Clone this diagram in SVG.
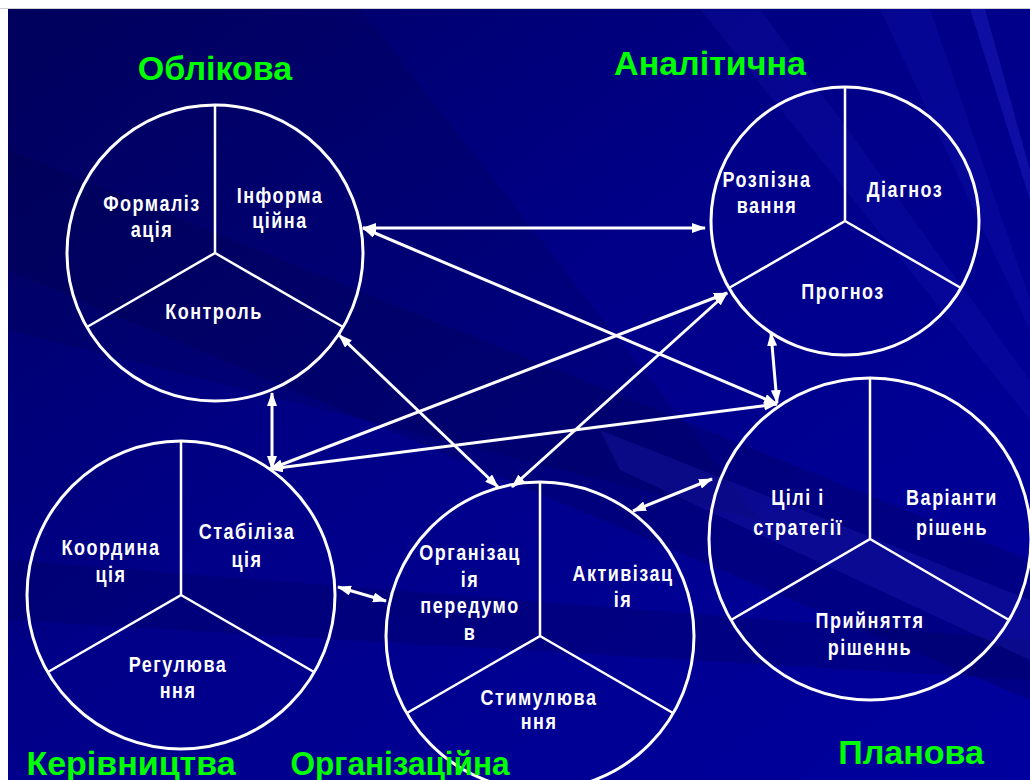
<svg xmlns="http://www.w3.org/2000/svg" width="1030" height="780" viewBox="0 0 1030 780">
<defs>
<linearGradient id="bg" x1="0" y1="0" x2="1" y2="1">
<stop offset="0" stop-color="#000062"/>
<stop offset="0.45" stop-color="#000088"/>
<stop offset="1" stop-color="#00009E"/>
</linearGradient>
<marker id="ah" viewBox="0 0 14 10" markerWidth="14" markerHeight="10" refX="13" refY="5" orient="auto-start-reverse" markerUnits="userSpaceOnUse">
<path d="M0,0 L14,5 L0,10 z" fill="#fff"/>
</marker>
<style>
.c{fill:none;stroke:#fff;stroke-width:3}
.d{stroke:#fff;stroke-width:2.5;fill:none}
.a{stroke:#fff;stroke-width:3;fill:none;marker-start:url(#ah);marker-end:url(#ah)}
.t{font-family:"Liberation Sans",Arial,sans-serif;font-weight:bold;font-size:18px;fill:#fff;text-anchor:middle;letter-spacing:1.5px}
.h{font-family:"Liberation Sans",Arial,sans-serif;font-weight:bold;font-size:34px;fill:#00FF00;text-anchor:middle}
</style>
</defs>
<rect x="0" y="0" width="1030" height="780" fill="#fff"/>
<rect x="0" y="8" width="1030" height="1" fill="#d0d0d0"/>
<g id="background">
<rect x="8" y="9" width="1022" height="771" fill="url(#bg)"/>
<polygon points="8,9 360,9 760,520 8,330" fill="#000040" opacity="0.18"/>
<polygon points="8,150 8,270 1030,700 1030,560" fill="#000040" opacity="0.22"/>
<polygon points="8,560 8,620 1030,680 1030,640" fill="#000050" opacity="0.25"/>
<polygon points="700,9 760,9 1030,380 1030,420" fill="#2020c0" opacity="0.2"/>
<polygon points="970,9 985,9 1030,170 1030,200" fill="#2020c0" opacity="0.45"/>
<polygon points="880,9 930,9 1030,300 1030,330" fill="#1818b8" opacity="0.25"/>
<polygon points="600,430 1030,600 1030,660 620,470" fill="#2828c8" opacity="0.25"/>
</g>
<g id="connectors">
<line class="a" x1="363" y1="228" x2="705" y2="228"/>
<line class="a" x1="363" y1="228" x2="777" y2="404"/>
<line class="a" x1="339" y1="335" x2="498" y2="487"/>
<line class="a" x1="727" y1="293" x2="270" y2="469"/>
<line class="a" x1="727" y1="293" x2="512" y2="487"/>
<line class="a" x1="270" y1="469" x2="777" y2="404"/>
<line class="a" x1="272" y1="393" x2="272" y2="469"/>
<line class="a" x1="771" y1="333" x2="777" y2="403"/>
<line class="a" x1="338" y1="587" x2="386" y2="601"/>
<line class="a" x1="633" y1="511" x2="712" y2="479"/>
</g>
<g id="oblikova">
<circle class="c" cx="215" cy="253" r="148"/>
<path class="d" d="M215,105 V253 L87,327 M215,253 L343,327"/>
<text class="h" x="215" y="80">Облікова</text>
<text class="t" transform="translate(152,211) scale(1,1.2)">Формаліз</text>
<text class="t" transform="translate(152,237) scale(1,1.2)">ація</text>
<text class="t" transform="translate(280,203) scale(1,1.2)">Інформа</text>
<text class="t" transform="translate(280,228) scale(1,1.2)">ційна</text>
<text class="t" transform="translate(214,319) scale(1,1.2)">Контроль</text>
</g>
<g id="analitychna">
<circle class="c" cx="845" cy="221" r="134"/>
<path class="d" d="M845,87 V221 L729,288 M845,221 L961,288"/>
<text class="h" x="710" y="75">Аналітична</text>
<text class="t" transform="translate(767,187) scale(1,1.2)">Розпізна</text>
<text class="t" transform="translate(767,213) scale(1,1.2)">вання</text>
<text class="t" transform="translate(905,197) scale(1,1.2)">Діагноз</text>
<text class="t" transform="translate(843,299) scale(1,1.2)">Прогноз</text>
</g>
<g id="kerivnytstva">
<circle class="c" cx="181" cy="595" r="154"/>
<path class="d" d="M181,441 V595 L48,672 M181,595 L314,672"/>
<text class="h" x="131" y="775">Керівництва</text>
<text class="t" transform="translate(111,555) scale(1,1.2)">Координа</text>
<text class="t" transform="translate(111,582) scale(1,1.2)">ція</text>
<text class="t" transform="translate(247,539) scale(1,1.2)">Стабіліза</text>
<text class="t" transform="translate(247,567) scale(1,1.2)">ція</text>
<text class="t" transform="translate(178,672) scale(1,1.2)">Регулюва</text>
<text class="t" transform="translate(178,698) scale(1,1.2)">ння</text>
</g>
<g id="organizatsiyna">
<circle class="c" cx="540" cy="636" r="154"/>
<path class="d" d="M540,482 V636 L407,713 M540,636 L673,713"/>
<text class="h" x="400" y="775" textLength="219" lengthAdjust="spacingAndGlyphs">Організаційна</text>
<text class="t" transform="translate(470,560) scale(1,1.2)">Організац</text>
<text class="t" transform="translate(470,587) scale(1,1.2)">ія</text>
<text class="t" transform="translate(470,613) scale(1,1.2)">передумо</text>
<text class="t" transform="translate(470,640) scale(1,1.2)">в</text>
<text class="t" transform="translate(623,581) scale(1,1.2)">Активізац</text>
<text class="t" transform="translate(623,607) scale(1,1.2)">ія</text>
<text class="t" transform="translate(539,705) scale(1,1.2)">Стимулюва</text>
<text class="t" transform="translate(539,729) scale(1,1.2)">ння</text>
</g>
<g id="planova">
<circle class="c" cx="870" cy="539" r="161"/>
<path class="d" d="M870,378 V539 L731,620 M870,539 L1009,620"/>
<text class="h" x="911" y="764">Планова</text>
<text class="t" transform="translate(798,505) scale(1,1.2)">Цілі і</text>
<text class="t" transform="translate(798,535) scale(1,1.2)">стратегії</text>
<text class="t" transform="translate(952,505) scale(1,1.2)">Варіанти</text>
<text class="t" transform="translate(952,535) scale(1,1.2)">рішень</text>
<text class="t" transform="translate(870,628) scale(1,1.2)">Прийняття</text>
<text class="t" transform="translate(870,655) scale(1,1.2)">рішеннь</text>
</g>
</svg>
